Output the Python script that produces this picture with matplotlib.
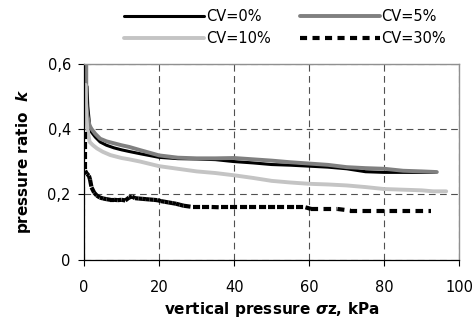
import matplotlib

matplotlib.use("Agg")
import matplotlib.pyplot as plt
import numpy as np
from matplotlib.collections import LineCollection

# pressure ratio k vs vertical pressure
x_cv0 = [0.8, 1.0, 1.5, 2.0, 3.0, 4.3, 6, 8, 10, 12, 15, 20, 25, 30, 35, 40, 45, 50,
         55, 60, 65, 70, 75, 80, 85, 90, 93.5]
k_cv0 = [0.53, 0.47, 0.41, 0.39, 0.375, 0.36, 0.35, 0.342, 0.336, 0.331, 0.324, 0.313,
         0.309, 0.308, 0.306, 0.300, 0.296, 0.291, 0.289, 0.286, 0.283, 0.278, 0.269,
         0.267, 0.267, 0.267, 0.267]

x_cv5 = [0.6, 0.6, 0.9, 1.5, 2.0, 3.0, 4.3, 6, 8, 10, 12, 15, 20, 25, 30, 35, 40, 45,
         50, 55, 60, 65, 70, 75, 80, 85, 90, 94]
k_cv5 = [0.6, 0.48, 0.44, 0.41, 0.40, 0.385, 0.37, 0.362, 0.356, 0.35, 0.345, 0.335,
         0.319, 0.312, 0.31, 0.31, 0.311, 0.307, 0.303, 0.298, 0.294, 0.29, 0.283,
         0.28, 0.278, 0.272, 0.27, 0.268]

x_cv10 = [0.4, 0.6, 0.9, 1.5, 2.4, 3.5, 5, 7, 10, 12, 15, 20, 25, 30, 35, 40, 45, 50,
          55, 60, 65, 70, 75, 80, 85, 90, 93, 96.5]
k_cv10 = [0.535, 0.44, 0.40, 0.36, 0.35, 0.34, 0.33, 0.32, 0.311, 0.307, 0.30, 0.286,
          0.278, 0.27, 0.265, 0.258, 0.25, 0.241, 0.236, 0.232, 0.230, 0.227, 0.222,
          0.216, 0.214, 0.212, 0.209, 0.209]

x_cv30 = [0.3, 0.3, 0.3, 0.3, 0.3, 0.8, 1.3, 1.6, 2.0, 2.7, 3.4, 4.2, 5.1, 6.0, 7.0,
          8.0, 9.0, 10.0, 11.0, 12.0, 12.8, 13.6, 14.5, 15.5, 16.5, 17.5, 18.5, 19.5,
          20.5, 21.5, 22.5, 23.5, 24.5, 25.5, 26.5, 29.0, 31.5, 34.0, 36.5, 39.0, 41.5,
          44.0, 46.5, 49.0, 51.5, 54.0, 56.5, 59.0, 60.5, 64.0, 67.5, 71.0, 74.5, 78.0,
          81.5, 85.0, 88.5, 92.5]
k_cv30 = [0.39, 0.36, 0.33, 0.30, 0.272, 0.262, 0.257, 0.245, 0.221, 0.205, 0.196,
          0.19, 0.187, 0.185, 0.183, 0.183, 0.182, 0.183, 0.181, 0.19, 0.193, 0.188,
          0.187, 0.186, 0.185, 0.184, 0.183, 0.182, 0.179, 0.177, 0.175, 0.173, 0.171,
          0.168, 0.165, 0.161, 0.161, 0.161, 0.160, 0.160, 0.160, 0.160, 0.160, 0.160,
          0.160, 0.160, 0.160, 0.160, 0.155, 0.155, 0.155, 0.150, 0.150, 0.150, 0.150,
          0.150, 0.150, 0.150]

x_ticks = [0, 20, 40, 60, 80, 100]
y_ticks = [0, 0.2, 0.4, 0.6]
y_tick_labels = ["0", "0,2", "0,4", "0,6"]

fig = plt.figure(figsize=(4.76, 3.21), dpi=100)
ax = fig.add_axes([0.1765, 0.1913, 0.7885, 0.6106])

h0, = ax.plot(x_cv0, k_cv0, color="black", lw=2.2, solid_capstyle="round",
              solid_joinstyle="round", label="CV=0%")
h5, = ax.plot(x_cv5, k_cv5, color="#808080", lw=2.8, solid_capstyle="round",
              solid_joinstyle="round", label="CV=5%")
h10, = ax.plot(x_cv10, k_cv10, color="#c4c4c4", lw=2.8, solid_capstyle="round",
               solid_joinstyle="round", label="CV=10%")

# Excel restarts the dash pattern on every segment, so draw segment by segment
pts = np.column_stack([x_cv30, k_cv30])
segs = np.stack([pts[:-1], pts[1:]], axis=1)
h30 = LineCollection(segs, colors="black", linewidths=3.0,
                     linestyles=[(0, (1.7, 1.3))], capstyle="butt", label="CV=30%")
ax.add_collection(h30)

ax.set_xlim(0, 100)
ax.set_ylim(0, 0.6)
ax.set_xticks(x_ticks)
ax.set_yticks(y_ticks)
ax.set_yticklabels(y_tick_labels)
ax.tick_params(direction="out", length=4.5, width=0.8, labelsize=10.5, color="black")
ax.tick_params(axis="x", pad=10)
ax.tick_params(axis="y", pad=5)

ax.set_axisbelow(True)
ax.grid(True, ls=(0, (6, 4)), color="#505050", lw=0.8)
for side in ("top", "right"):
    ax.spines[side].set_color("#909090")
    ax.spines[side].set_linewidth(1.0)
for side in ("left", "bottom"):
    ax.spines[side].set_color("black")
    ax.spines[side].set_linewidth(0.9)

ax.set_xlabel(r"vertical pressure $\mathbfit{\sigma}$z, kPa", fontsize=11,
              fontweight="bold", labelpad=4)
ax.set_ylabel(r"pressure ratio  $\mathbfit{k}$", fontsize=11, fontweight="bold")
ax.yaxis.set_label_coords(-0.135, 0.5)

# legend reads row by row in the reference, matplotlib fills columns first
fig.legend([h0, h10, h5, h30], ["CV=0%", "CV=10%", "CV=5%", "CV=30%"],
           loc="center", bbox_to_anchor=(0.599, 0.914), ncol=2, frameon=False,
           fontsize=10.5, handlelength=5.5, handletextpad=0.1, columnspacing=2.0,
           labelspacing=0.45, borderpad=0.0)

fig.savefig("out.png", dpi=100)
